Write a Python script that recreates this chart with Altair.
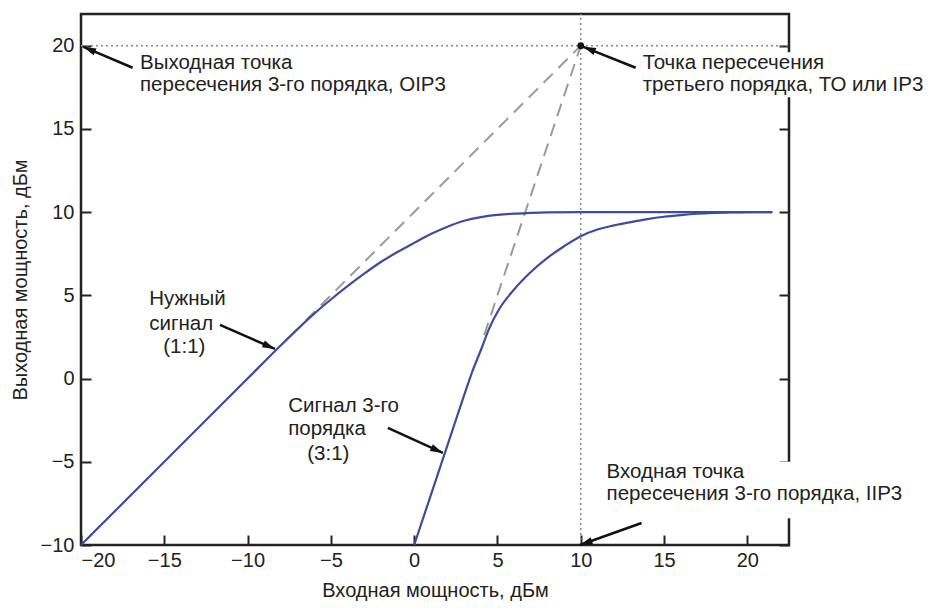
import math
import altair as alt
import pandas as pd

# ---- data ----
fund_x = [-20, -10, -8, -7, -6, -5, -4, -3, -2, -1, 0, 1, 2, 3, 4, 5, 6, 7, 8, 10, 21.5]
fund_y = [-10, 0, 2, 2.97, 3.9, 4.75, 5.55, 6.3, 7.0, 7.6, 8.15, 8.68, 9.12, 9.48, 9.7, 9.83, 9.91, 9.95, 9.98, 10, 10]

third_x = [0, 1, 2, 3, 3.5, 4, 4.5, 5, 6, 7, 8, 9, 10, 11, 12, 13, 14, 15, 16, 17, 18, 19, 20, 21.5]
third_y = [-10, -7, -4, -1, 0.45, 1.7, 3.0, 4.0, 5.35, 6.4, 7.25, 7.95, 8.55, 8.95, 9.2, 9.4, 9.58, 9.72, 9.82, 9.9, 9.95, 9.98, 10, 10]

ext1_x = [-6.5, 10]
ext1_y = [3.5, 20]
ext3_x = [4.2, 10]
ext3_y = [2.6, 20]

ip_x = [10]
ip_y = [20]

x_ticks = [-20, -15, -10, -5, 0, 5, 10, 15, 20]
y_ticks = [-10, -5, 0, 5, 10, 15, 20]
x_dom = [-20, 22.5]
y_dom = [-10, 21.9]

label_x = [-16.46, -16.46, 13.72, 13.72, -15.9, -15.9, -15.06, -7.56, -7.56, -6.42, 11.55, 11.55]
label_y = [18.6, 17.28, 18.6, 17.28, 4.42, 2.92, 1.54, -1.99, -3.39, -4.89, -5.99, -7.3]
label_t = ["Выходная точка", "пересечения 3-го порядка, OIP3",
           "Точка пересечения", "третьего порядка, ТО или IP3",
           "Нужный", "сигнал", "(1:1)",
           "Сигнал 3-го", "порядка", "(3:1)",
           "Входная точка", "пересечения 3-го порядка, IIP3"]

arrow_tx = [-16.9, 13.3, -11.66, -1.58, 13.65]
arrow_ty = [18.67, 18.67, 3.22, -2.97, -8.68]
arrow_hx = [-19.85, 10.15, -8.36, 1.72, 9.95]
arrow_hy = [19.92, 19.93, 1.78, -4.47, -10.0]

box_x = [13.4, 11.3]
box_x2 = [26, 26]
box_y = [19.6, -5.0]
box_y2 = [16.9, -8.4]

W, H = 708, 531
FONT = "Liberation Sans"
BLUE = "#3f4c9c"

px_per_x = W / (x_dom[1] - x_dom[0])
px_per_y = H / (y_dom[1] - y_dom[0])

xs = alt.Scale(domain=x_dom, nice=False, zero=False)
ys = alt.Scale(domain=y_dom, nice=False, zero=False)

x_axis = alt.Axis(values=x_ticks, title="Входная мощность, дБм", offset=-10, tickSize=10,
                  domain=False, grid=False, labelPadding=5, titlePadding=10,
                  labelFontSize=20, titleFontSize=20, labelFont=FONT, titleFont=FONT,
                  labelColor="#222", titleColor="#222", titleFontWeight="normal",
                  tickColor="#222", tickWidth=2, format="d")
y_axis = alt.Axis(values=y_ticks, title="Выходная мощность, дБм", offset=-10, tickSize=10,
                  domain=False, grid=False, labelPadding=7, titlePadding=10,
                  labelFontSize=20, titleFontSize=20, labelFont=FONT, titleFont=FONT,
                  labelColor="#222", titleColor="#222", titleFontWeight="normal",
                  tickColor="#222", tickWidth=2, format="d")
y_axis_r = alt.Axis(values=y_ticks, title=None, orient="right", offset=-10, tickSize=10,
                    domain=False, grid=False, labels=False, tickColor="#222", tickWidth=2)

X = lambda f="x": alt.X(f + ":Q", scale=xs, axis=x_axis)
Y = lambda f="y": alt.Y(f + ":Q", scale=ys, axis=y_axis)

fund = pd.DataFrame({"x": fund_x, "y": fund_y})
third = pd.DataFrame({"x": third_x, "y": third_y})
ext = pd.DataFrame({"x": ext1_x + ext3_x, "y": ext1_y + ext3_y, "g": ["a", "a", "b", "b"]})
hline = pd.DataFrame({"x": [x_dom[0]], "x2": [x_dom[1]], "y": [ip_y[0]]})
vline = pd.DataFrame({"x": [ip_x[0]], "y": [y_dom[0]], "y2": [y_dom[1]]})
ip = pd.DataFrame({"x": ip_x, "y": ip_y})
labels = pd.DataFrame({"x": label_x, "y": label_y, "t": label_t})
boxes = pd.DataFrame({"x": box_x, "x2": box_x2, "y": box_y, "y2": box_y2})

angles = []
for tx, ty, hx, hy in zip(arrow_tx, arrow_ty, arrow_hx, arrow_hy):
    dx = (hx - tx) * px_per_x
    dy = -(hy - ty) * px_per_y
    angles.append(math.degrees(math.atan2(dx, -dy)) % 360)
arrows = pd.DataFrame({"tx": arrow_tx, "ty": arrow_ty, "hx": arrow_hx, "hy": arrow_hy, "a": angles})

l_dot_h = alt.Chart(hline).mark_rule(color="#8a8a8a", strokeWidth=1.5, strokeDash=[2, 3]).encode(
    x=X(), x2="x2:Q", y=Y())
l_dot_v = alt.Chart(vline).mark_rule(color="#8a8a8a", strokeWidth=1.5, strokeDash=[2, 3]).encode(
    x=X(), y=Y(), y2="y2:Q")
l_ext = alt.Chart(ext).mark_line(color="#9a9a9a", strokeWidth=2, strokeDash=[13, 8]).encode(
    x=X(), y=Y(), detail="g:N")
l_fund = alt.Chart(fund).mark_line(color=BLUE, strokeWidth=2.2, interpolate="monotone").encode(x=X(), y=Y())
l_third = alt.Chart(third).mark_line(color=BLUE, strokeWidth=2.2, interpolate="monotone").encode(x=X(), y=Y())
l_ip = alt.Chart(ip).mark_point(filled=True, color="#111", size=45, opacity=1).encode(x=X(), y=Y())
l_box = alt.Chart(boxes).mark_rect(color="white").encode(x=X(), x2="x2:Q", y=Y(), y2="y2:Q")
l_text = alt.Chart(labels).mark_text(align="left", baseline="alphabetic", font=FONT, fontSize=20.5,
                                     color="#222").encode(x=X(), y=Y(), text="t:N")
l_arrow = alt.Chart(arrows).mark_rule(color="#111", strokeWidth=2.5).encode(
    x=X("tx"), y=Y("ty"), x2="hx:Q", y2="hy:Q")
l_head = alt.Chart(arrows).mark_point(shape="M0,0L0.5,1.7L-0.5,1.7Z", filled=True, color="#111",
                                      size=220, opacity=1).encode(
    x=X("hx"), y=Y("hy"), angle=alt.Angle("a:Q", scale=None))

main = alt.layer(l_dot_h, l_dot_v, l_ext, l_fund, l_third, l_ip, l_box, l_text, l_arrow, l_head)

right = alt.Chart(ip).mark_point(opacity=0).encode(
    x=X(), y=alt.Y("y:Q", scale=ys, axis=y_axis_r))

chart = alt.layer(main, right).resolve_scale(y="independent").properties(
    width=W, height=H,
    autosize=alt.AutoSizeParams(type="none"),
    padding={"left": 73, "top": 6, "right": 136, "bottom": 60},
).configure_view(stroke="#222", strokeWidth=2.5)

chart.save("out.html", embed_options={"renderer": "svg", "actions": False})
